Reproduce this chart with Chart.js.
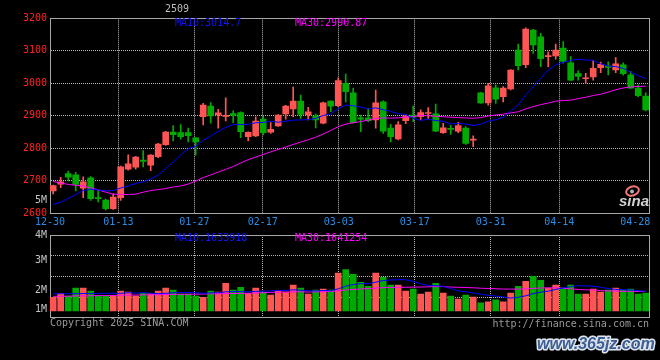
<!DOCTYPE html>
<html><head><meta charset="utf-8">
<script src="https://cdn.jsdelivr.net/npm/chart.js"></script>
<style>
html,body{margin:0;padding:0;background:#000;width:660px;height:360px;overflow:hidden}
canvas{position:absolute;left:0}
#p{top:0;width:660px;height:230px}
#v{top:226px;width:660px;height:134px}
</style></head><body>
<canvas id="p" width="660" height="230"></canvas>
<canvas id="v" width="660" height="134"></canvas>
<script>
// ---------- data ----------
const dates = ['12-30','12-31','01-02','01-03','01-06','01-07','01-08','01-09','01-10','01-13',
'01-14','01-15','01-16','01-17','01-20','01-21','01-22','01-23','01-24','01-27',
'02-05','02-06','02-07','02-10','02-11','02-12','02-13','02-14','02-17','02-18',
'02-19','02-20','02-21','02-24','02-25','02-26','02-27','02-28','03-03','03-04',
'03-05','03-06','03-07','03-10','03-11','03-12','03-13','03-14','03-17','03-18',
'03-19','03-20','03-21','03-24','03-25','03-26','03-27','03-28','03-31','04-01',
'04-02','04-03','04-07','04-08','04-09','04-10','04-11','04-14','04-15','04-16',
'04-17','04-18','04-21','04-22','04-23','04-24','04-25','04-28','04-29','04-30'];
const tickDates = ['12-30','01-13','01-27','02-17','03-03','03-17','03-31','04-14','04-28'];

const open = [2669,2690,2722,2718,2677,2709,2648,2641,2614,2648,
2736,2742,2764,2748,2774,2811,2850,2848,2848,2832,
2897,2930,2903,2898,2907,2910,2836,2838,2890,2850,
2869,2906,2921,2945,2903,2900,2877,2945,2931,3000,
2971,2894,2894,2887,2943,2862,2829,2885,2902,2897,
2907,2906,2848,2860,2853,2862,2825,2971,2940,2986,
2959,2983,3102,3057,3164,3143,3082,3084,3108,3063,
3030,3014,3020,3048,3053,3041,3057,3026,2985,2961];
const close = [2685,2697,2711,2689,2697,2645,2645,2614,2650,2743,
2752,2773,2760,2779,2813,2850,2842,2836,2839,2820,
2933,2900,2909,2900,2901,2851,2849,2884,2848,2858,
2902,2930,2945,2904,2912,2887,2940,2930,3008,2974,
2879,2890,2885,2940,2853,2836,2872,2900,2896,2910,
2909,2853,2863,2858,2870,2815,2827,2940,2992,2951,
2985,3041,3054,3167,3118,3076,3085,3102,3067,3010,
3021,3016,3046,3058,3049,3060,3030,2985,2962,2918];
const high = [2687,2711,2730,2726,2712,2713,2670,2644,2660,2745,
2780,2775,2793,2781,2815,2852,2870,2873,2862,2833,
2938,2941,2920,2955,2915,2912,2851,2897,2899,2879,
2904,2932,2988,2964,2926,2905,2942,2946,3017,3028,
2985,2902,2923,2979,2946,2874,2882,2904,2930,2918,
2925,2936,2877,2871,2880,2867,2838,2972,3000,2995,
2990,3042,3121,3171,3166,3154,3097,3121,3128,3082,
3038,3031,3070,3065,3066,3079,3063,3036,2995,2971];
const low = [2660,2679,2700,2669,2648,2640,2635,2610,2612,2640,
2733,2736,2743,2731,2771,2809,2823,2828,2820,2779,
2872,2877,2862,2884,2879,2833,2823,2836,2841,2846,
2867,2890,2897,2892,2887,2863,2875,2913,2928,2943,
2877,2851,2882,2862,2846,2820,2826,2876,2882,2887,
2892,2851,2846,2843,2848,2812,2805,2938,2933,2938,
2943,2980,3041,3048,3092,3051,3051,3074,3062,3008,
3010,3000,3010,3033,3026,3033,3025,2984,2959,2915];
const ma10 = [2628,2634,2646,2658,2670,2674,2672,2669,2670,2677.6,
2684.3,2691.9,2696.8,2705.8,2717.4,2737.9,2757.6,2779.8,2798.7,2806.4,
2824.5,2837.2,2852.1,2864.2,2873.0,2873.1,2873.8,2878.6,2879.5,2883.3,
2880.2,2883.2,2886.8,2887.2,2888.3,2891.9,2901.0,2905.6,2921.6,2933.2,
2930.9,2926.9,2920.9,2924.5,2918.6,2913.5,2906.7,2903.7,2892.5,2886.1,
2889.1,2885.4,2883.2,2875.0,2876.7,2874.6,2870.1,2874.1,2883.7,2887.8,
2895.4,2914.2,2933.3,2964.2,2989.0,3015.1,3040.9,3057.1,3064.6,3070.5,
3074.1,3071.6,3070.8,3059.9,3053.0,3051.4,3045.9,3034.2,3023.7,3014.5];
const ma30 = [2698,2693,2689,2686,2684,2678,2672,2665,2659,2658,
2658,2659,2665,2670,2673,2676,2681,2684,2690,2699,
2710,2718,2727,2735,2744,2755,2765,2773,2781,2789.1,
2796.3,2804.1,2811.9,2819.1,2826.2,2834.3,2844.1,2854.7,2866.6,2874.3,
2878.5,2882.4,2886.6,2892.0,2893.3,2892.8,2893.8,2896.0,2897.9,2900.9,
2900.1,2898.5,2897.0,2895.6,2894.5,2893.3,2892.6,2894.5,2899.3,2902.4,
2905.1,2908.8,2912.5,2921.2,2928.1,2934.4,2939.2,2945.0,2946.9,2948.1,
2952.9,2957.1,2962.4,2966.4,2972.9,2980.4,2985.6,2988.5,2990.7,2990.9];
// volume in millions
const volume = [1.14,1.48,1.25,1.92,1.92,1.67,1.28,1.25,1.25,1.67,
1.58,1.25,1.48,1.48,1.67,1.92,1.75,1.42,1.42,1.25,
1.14,1.67,1.58,2.33,1.75,1.98,1.48,1.92,1.58,1.33,
1.67,1.58,2.17,1.92,1.42,1.75,1.83,1.75,3.19,3.50,
3.08,2.42,2.08,3.19,2.83,2.17,2.17,1.67,1.83,1.42,
1.58,2.33,1.50,1.25,1.00,1.33,1.17,0.67,0.75,0.92,
0.75,1.50,2.08,2.50,2.92,2.58,1.92,2.17,1.92,2.17,
1.42,1.42,1.83,1.58,1.75,1.92,1.75,1.83,1.42,1.50];
const volMa10 = [1.45,1.45,1.44,1.45,1.46,1.47,1.47,1.48,1.48,1.48,
1.53,1.50,1.53,1.48,1.46,1.48,1.53,1.55,1.56,1.52,
1.48,1.52,1.53,1.61,1.62,1.63,1.60,1.65,1.67,1.68,
1.73,1.72,1.78,1.74,1.70,1.68,1.72,1.70,1.86,2.08,
2.22,2.30,2.29,2.42,2.56,2.61,2.64,2.63,2.49,2.29,
2.14,2.13,2.07,1.88,1.69,1.61,1.51,1.41,1.30,1.25,
1.17,1.08,1.14,1.27,1.46,1.58,1.66,1.81,1.93,2.05,
2.12,2.11,2.08,1.99,1.88,1.81,1.79,1.76,1.71,1.64];
const volMa30 = [1.22,1.24,1.23,1.26,1.27,1.27,1.29,1.28,1.30,1.32,
1.33,1.33,1.35,1.36,1.36,1.38,1.39,1.40,1.40,1.41,
1.42,1.44,1.44,1.46,1.47,1.48,1.49,1.51,1.53,1.56,
1.58,1.58,1.61,1.61,1.59,1.60,1.62,1.63,1.70,1.76,
1.81,1.85,1.87,1.92,1.96,1.97,1.99,1.99,2.01,2.01,
2.03,2.05,2.05,2.01,1.99,1.97,1.95,1.91,1.89,1.87,
1.84,1.84,1.84,1.85,1.90,1.93,1.94,1.95,1.91,1.86,
1.81,1.77,1.77,1.71,1.68,1.67,1.65,1.66,1.64,1.65];
const priceTickValues = [2600,2700,2800,2900,3000,3100,3200];
const volTickLabels = ['1M','2M','3M','4M'];
const maTexts = {p10:'MA10:3014.7', p30:'MA30:2990.87', v10:'MA10:1633918', v30:'MA30:1641254'};

// ---------- styling / layout ----------
const RED = '#ff5555', GREEN = '#00aa00', GRID = '#b8b8b8', BORDER = '#a8a8a8';
const CLEAR = 'rgba(0,0,0,0)';
const MONO = '"DejaVu Sans Mono", monospace';
Chart.defaults.font.family = MONO;
Chart.defaults.font.size = 10;

const AREA_W = 599.3;          // plot width in px
const CANDLE_PX = 7.5, GRID_PX = 7.6, FIRST_OFF = 3.2;
const idx = dates.map((d, i) => i);
const gridIdx = tickDates.map(d => dates.indexOf(d));
const lastGrid = gridIdx[gridIdx.length - 1];
const candleColor = c => close[c.dataIndex] >= open[c.dataIndex] ? RED : GREEN;

const fixW = w => s => { s.width = w; };
const fixH = h => s => { s.height = h; };

function xAxes(showLabels, h) {
  return {
    x: { type: 'linear', display: false, offset: false, grid: { offset: false },
         min: -FIRST_OFF / CANDLE_PX, max: (AREA_W - FIRST_OFF) / CANDLE_PX },
    xg: {
      type: 'linear', position: 'bottom', min: 0, max: AREA_W / GRID_PX, offset: false,
      afterBuildTicks: s => { s.ticks = gridIdx.map(v => ({ value: v })); },
      afterFit: fixH(h),
      grid: { offset: false, color: c => (c.tick && (c.tick.value === 0 || c.tick.value === lastGrid)) ? CLEAR : GRID, drawTicks: false, lineWidth: 1 },
      border: { display: true, color: BORDER, width: 1, dash: [1, 1] },
      ticks: { display: showLabels, color: '#2a8ee6', padding: 3, maxRotation: 0, autoSkip: false, callback: v => dates[v] }
    },
    xt: {
      type: 'linear', position: 'top', display: true, offset: false, afterFit: fixH(0),
      grid: { display: false, drawTicks: false, offset: false }, ticks: { display: false },
      border: { display: true, color: BORDER, width: 1 }
    },
    yr: {
      type: 'linear', position: 'right', display: true, afterFit: fixW(0),
      grid: { display: false, drawTicks: false }, ticks: { display: false },
      border: { display: true, color: BORDER, width: 1 }
    }
  };
}

function textPlugin(id, items, extra) {
  return { id, afterDraw(chart) {
    const ctx = chart.ctx; ctx.save();
    items.forEach(t => {
      ctx.font = t.font || ('10px ' + MONO);
      ctx.fillStyle = t.color; ctx.textAlign = t.align || 'left'; ctx.textBaseline = 'middle';
      if (t.stroke) { ctx.lineJoin = 'round'; ctx.lineWidth = t.strokeW; ctx.strokeStyle = t.stroke; ctx.strokeText(t.text, t.x, t.y); }
      ctx.fillText(t.text, t.x, t.y);
    });
    if (extra) extra(ctx);
    ctx.restore();
  }};
}

const FIVE_M = 2640; // where the stray "5M" label sits on the price scale
const AX = { xAxisID: 'x', yAxisID: 'y' };

// ---------- price chart ----------
new Chart(document.getElementById('p'), {
  type: 'bar',
  data: { datasets: [
    Object.assign({ type: 'line', data: idx.map(i => ({ x: i, y: ma10[i] })), borderColor: '#0000ff', borderWidth: 1, pointRadius: 0, order: 0 }, AX),
    Object.assign({ type: 'line', data: idx.map(i => ({ x: i, y: ma30[i] })), borderColor: '#ff00ff', borderWidth: 1, pointRadius: 0, order: 1 }, AX),
    Object.assign({ type: 'bar', data: idx.map(i => ({ x: i, y: [open[i], close[i]] })), backgroundColor: candleColor, barThickness: 6, grouped: false, minBarLength: 1, order: 2 }, AX),
    Object.assign({ type: 'bar', data: idx.map(i => ({ x: i, y: [low[i], high[i]] })), backgroundColor: candleColor, barThickness: 1, grouped: false, order: 3 }, AX)
  ]},
  options: {
    responsive: false, animation: false, devicePixelRatio: 1, events: [],
    layout: { padding: { left: 0, right: 660 - 50 - AREA_W, top: 18.3, bottom: 0 } },
    plugins: { legend: { display: false }, tooltip: { enabled: false } },
    scales: Object.assign(xAxes(true, 16.7), {
      y: {
        type: 'linear', position: 'left', min: 2600, max: 3200,
        afterBuildTicks: s => { s.ticks = [2600, FIVE_M].concat(priceTickValues.slice(1)).map(v => ({ value: v })); },
        afterFit: fixW(50),
        grid: { color: c => (c.tick && (c.tick.value === 2600 || c.tick.value === FIVE_M)) ? CLEAR : GRID, drawTicks: false },
        border: { display: true, color: BORDER, width: 1, dash: [1, 1] },
        ticks: { padding: 3, autoSkip: false,
          color: c => (c.tick && c.tick.value === FIVE_M) ? '#c4c4c4' : '#ff2222',
          callback: v => v === FIVE_M ? '5M' : String(v) }
      }
    })
  },
  plugins: [textPlugin('ptext', [
    { text: '2509', x: 165, y: 9.5, color: '#bdbdbd' },
    { text: maTexts.p10, x: 175, y: 23.7, color: '#1414ff' },
    { text: maTexts.p30, x: 295, y: 23.7, color: '#ff00ff' },
    { text: 'sina', x: 619, y: 202, color: '#d0d0d0', font: 'italic bold 15px "Liberation Sans", sans-serif' }
  ], ctx => {
    ctx.strokeStyle = '#f07878'; ctx.lineWidth = 2;
    ctx.beginPath(); ctx.ellipse(632.5, 191, 6.5, 4.5, -0.3, 0, Math.PI * 2); ctx.stroke();
    ctx.fillStyle = '#b0b0b0'; ctx.beginPath(); ctx.arc(632, 191.5, 2, 0, Math.PI * 2); ctx.fill();
  })]
});

// ---------- volume chart ----------
// volume panel: value 0 sits at y=311, 12px per million; box 234..318
const V_MIN = -7 / 12, V_MAX = 77 / 12;
const volLabelVals = [1 / 12, 21 / 12, 51 / 12, V_MAX];
new Chart(document.getElementById('v'), {
  type: 'bar',
  data: { datasets: [
    Object.assign({ type: 'line', data: idx.map(i => ({ x: i, y: volMa10[i] })), borderColor: '#0000ff', borderWidth: 1, pointRadius: 0, order: 0 }, AX),
    Object.assign({ type: 'line', data: idx.map(i => ({ x: i, y: volMa30[i] })), borderColor: '#ff00ff', borderWidth: 1, pointRadius: 0, order: 1 }, AX),
    Object.assign({ type: 'bar', data: idx.map(i => ({ x: i, y: volume[i] })), backgroundColor: candleColor, barThickness: 6, grouped: false, order: 2 }, AX)
  ]},
  options: {
    responsive: false, animation: false, devicePixelRatio: 1, events: [],
    layout: { padding: { left: 0, right: 660 - 50 - AREA_W, top: 8.3, bottom: 0 } },
    plugins: { legend: { display: false }, tooltip: { enabled: false } },
    scales: Object.assign(xAxes(false, 42.3), {
      y: {
        type: 'linear', position: 'left', min: V_MIN, max: V_MAX, beginAtZero: false,
        afterBuildTicks: s => {
          const g = [21, 42, 63].map(p => V_MAX - p / 12);
          const all = g.map(v => ({ value: v, grid: true })).concat(volLabelVals.map((v, k) => ({ value: v, label: volTickLabels[k] })));
          all.sort((a, b) => a.value - b.value);
          s.ticks = all.map(t => ({ value: t.value, _lbl: t.label || '', _grid: !!t.grid }));
        },
        afterFit: fixW(50),
        grid: { color: c => (c.tick && c.tick._grid) ? GRID : CLEAR, drawTicks: false },
        border: { display: true, color: BORDER, width: 1, dash: [1, 1] },
        ticks: { padding: 3, autoSkip: false, color: '#c4c4c4',
          callback: function (v, i, ticks) { return ticks[i]._lbl; } }
      }
    })
  },
  plugins: [textPlugin('vtext', [
    { text: maTexts.v10, x: 175, y: 12.7, color: '#1414ff' },
    { text: maTexts.v30, x: 295, y: 12.7, color: '#ff00ff' },
    { text: 'Copyright 2025 SINA.COM', x: 50, y: 97.5, color: '#9a9a9a' },
    { text: 'http://finance.sina.com.cn', x: 649, y: 98, color: '#9a9a9a', align: 'right' },
    { text: 'www.365jz.com', x: 537, y: 119, color: '#3d5e92', stroke: '#dfe5ef', strokeW: 3,
      font: 'italic bold 16px "Liberation Sans", sans-serif' }
  ])]
});
</script>
</body></html>
